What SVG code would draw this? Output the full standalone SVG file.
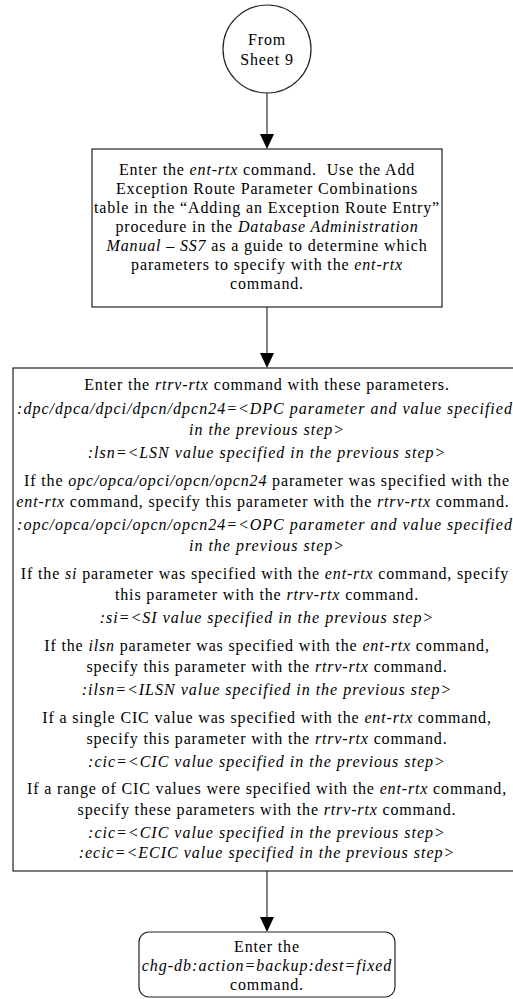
<svg xmlns="http://www.w3.org/2000/svg" width="513" height="999" viewBox="0 0 513 999">
<style>
.shape{fill:#fff;stroke:#222;stroke-width:1.2}
.t{font-family:"Liberation Serif","Times New Roman",serif;font-size:16px;letter-spacing:0.85px;fill:#000;text-anchor:middle}
.i{font-style:italic}
.ti{font-family:"Liberation Serif","Times New Roman",serif;font-size:16px;letter-spacing:1px;fill:#000;text-anchor:middle;font-style:italic}
.conn{stroke:#333;stroke-width:1.2;fill:none}
.head{fill:#000}
</style>
<rect width="513" height="999" fill="#fff"/>
<g id="connectors">
<line class="conn" x1="267" y1="93" x2="267" y2="134"/>
<path class="head" d="M260,134 L274,134 L267,149 Z"/>
<line class="conn" x1="267" y1="307" x2="267" y2="353"/>
<path class="head" d="M260,353 L274,353 L267,368 Z"/>
<line class="conn" x1="267" y1="871" x2="267" y2="917"/>
<path class="head" d="M260,917 L274,917 L267,932 Z"/>
</g>
<g id="start">
<circle class="shape" cx="267" cy="49" r="44"/>
<text class="t" x="267" y="45">From</text>
<text class="t" x="267" y="65">Sheet 9</text>
</g>
<g id="enter-ent-rtx">
<rect class="shape" x="92" y="149" width="350" height="158"/>
<text class="t" x="267" y="175">Enter the <tspan class="i">ent-rtx</tspan> command.&#160; Use the Add</text>
<text class="t" x="267" y="194">Exception Route Parameter Combinations</text>
<text class="t" x="267" y="213">table in the “Adding an Exception Route Entry”</text>
<text class="t" x="267" y="232">procedure in the <tspan class="i">Database Administration</tspan></text>
<text class="t" x="267" y="251"><tspan class="i">Manual – SS7</tspan> as a guide to determine which</text>
<text class="t" x="267" y="270">parameters to specify with the <tspan class="i">ent-rtx</tspan></text>
<text class="t" x="267" y="289">command.</text>
</g>
<g id="enter-rtrv-rtx">
<rect class="shape" x="13" y="368" width="508" height="503"/>
<text class="t" x="267" y="390">Enter the <tspan class="i">rtrv-rtx</tspan> command with these parameters.</text>
<text class="ti" x="265" y="413.5">:dpc/dpca/dpci/dpcn/dpcn24=&lt;DPC parameter and value specified</text>
<text class="ti" x="267" y="434.5">in the previous step&gt;</text>
<text class="ti" x="267" y="458">:lsn=&lt;LSN value specified in the previous step&gt;</text>
<text class="t" x="267" y="485.5">If the <tspan class="i">opc/opca/opci/opcn/opcn24</tspan> parameter was specified with the</text>
<text class="t" x="263" y="506.5"><tspan class="i">ent-rtx</tspan> command, specify this parameter with the <tspan class="i">rtrv-rtx</tspan> command.</text>
<text class="ti" x="265" y="530">:opc/opca/opci/opcn/opcn24=&lt;OPC parameter and value specified</text>
<text class="ti" x="267" y="551">in the previous step&gt;</text>
<text class="t" x="265" y="578.5">If the <tspan class="i">si</tspan> parameter was specified with the <tspan class="i">ent-rtx</tspan> command, specify</text>
<text class="t" x="267" y="599.5">this parameter with the <tspan class="i">rtrv-rtx</tspan> command.</text>
<text class="ti" x="267" y="623">:si=&lt;SI value specified in the previous step&gt;</text>
<text class="t" x="267" y="650.5">If the <tspan class="i">ilsn</tspan> parameter was specified with the <tspan class="i">ent-rtx</tspan> command,</text>
<text class="t" x="267" y="671.5">specify this parameter with the <tspan class="i">rtrv-rtx</tspan> command.</text>
<text class="ti" x="267" y="695">:ilsn=&lt;ILSN value specified in the previous step&gt;</text>
<text class="t" x="267" y="722.5">If a single CIC value was specified with the <tspan class="i">ent-rtx</tspan> command,</text>
<text class="t" x="267" y="743.5">specify this parameter with the <tspan class="i">rtrv-rtx</tspan> command.</text>
<text class="ti" x="267" y="767">:cic=&lt;CIC value specified in the previous step&gt;</text>
<text class="t" x="267" y="794">If a range of CIC values were specified with the <tspan class="i">ent-rtx</tspan> command,</text>
<text class="t" x="267" y="814.5">specify these parameters with the <tspan class="i">rtrv-rtx</tspan> command.</text>
<text class="ti" x="267" y="837.5">:cic=&lt;CIC value specified in the previous step&gt;</text>
<text class="ti" x="267" y="858">:ecic=&lt;ECIC value specified in the previous step&gt;</text>
</g>
<g id="chg-db">
<rect class="shape" x="139" y="932" width="256" height="65" rx="10" ry="10"/>
<text class="t" x="267" y="952">Enter the</text>
<text class="ti" x="267" y="971">chg-db:action=backup:dest=fixed</text>
<text class="t" x="267" y="990">command.</text>
</g>
</svg>
